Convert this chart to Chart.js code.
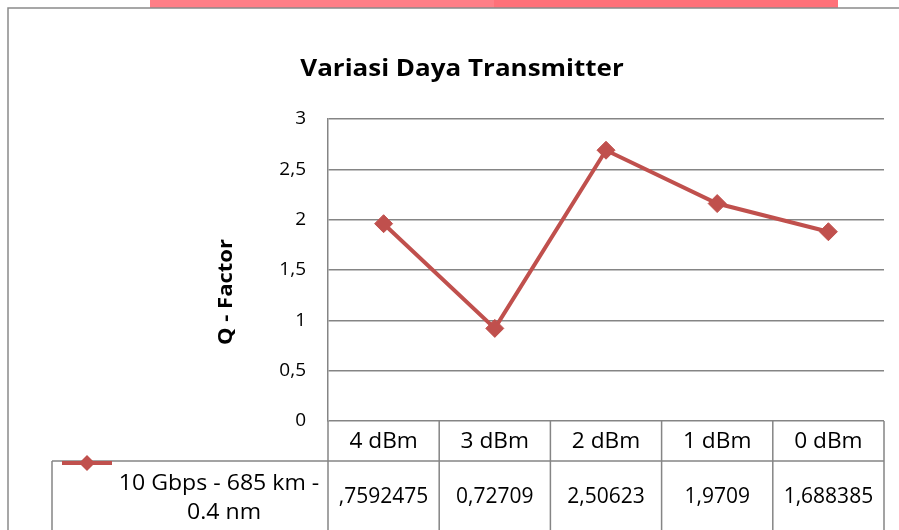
<!DOCTYPE html>
<html>
<head>
<meta charset="utf-8">
<script src="https://cdn.jsdelivr.net/npm/chart.js@4.4.0/dist/chart.umd.min.js"></script>
<style>
  html, body { margin: 0; padding: 0; background: #fff; }
  #wrap { width: 899px; height: 530px; position: relative; }
</style>
</head>
<body>
<div id="wrap"><canvas id="qChart" width="899" height="530"></canvas></div>
<script>
// data
const categories = ["4 dBm", "3 dBm", "2 dBm", "1 dBm", "0 dBm"];
const qFactor = [1.96, 0.92, 2.69, 2.16, 1.88];
const tableValues = [",7592475", "0,72709", "2,50623", "1,9709", "1,688385"];
const yTickLabels = ["0", "0,5", "1", "1,5", "2", "2,5", "3"];
const seriesName = ["10 Gbps - 685 km -", "0.4 nm"];

const red = "#C0504D";
const gridGrey = "#858585";
const fontFam = "'Open Sans', 'Liberation Sans', sans-serif";

// text stretched sideways so it covers the same width as the original
function wideText(ctx, text, x, y, stretch) {
  ctx.save();
  ctx.translate(x, y);
  ctx.scale(stretch, 1);
  ctx.fillText(text, 0, 0);
  ctx.restore();
}

// draws the outer frame, title, y title and the data table under the plot
const tablePlugin = {
  id: "dataTable",
  afterDraw(chart) {
    const ctx = chart.ctx;
    const area = chart.chartArea;
    const n = categories.length;
    const step = (area.right - area.left) / n;
    const rowTop = area.bottom;
    const row2 = rowTop + 40;
    const bottom = chart.height;

    ctx.save();

    // pink strip at top
    ctx.fillStyle = "#FF7F87";
    ctx.fillRect(150, 0, 344, 8);
    ctx.fillStyle = "#FF7179";
    ctx.fillRect(494, 0, 344, 8);

    // outer frame
    ctx.strokeStyle = "#8a8a8a";
    ctx.lineWidth = 1.5;
    ctx.beginPath();
    ctx.moveTo(8, bottom);
    ctx.lineTo(8, 8);
    ctx.lineTo(chart.width, 8);
    ctx.stroke();

    // chart title
    ctx.fillStyle = "#000";
    ctx.font = "bold 23px " + fontFam;
    ctx.textAlign = "center";
    ctx.textBaseline = "middle";
    wideText(ctx, "Variasi Daya Transmitter", 462, 69, 1.13);

    // y axis title
    ctx.save();
    ctx.translate(226, 292);
    ctx.rotate(-Math.PI / 2);
    ctx.font = "bold 20px " + fontFam;
    wideText(ctx, "Q - Factor", 0, 0, 1.1);
    ctx.restore();

    // table lines
    ctx.strokeStyle = gridGrey;
    ctx.lineWidth = 1.5;
    ctx.beginPath();
    ctx.moveTo(52, row2);
    ctx.lineTo(area.right, row2);
    ctx.moveTo(52, row2);
    ctx.lineTo(52, bottom);
    for (let i = 0; i <= n; i++) {
      const x = area.left + step * i;
      ctx.moveTo(x, rowTop);
      ctx.lineTo(x, bottom);
    }
    ctx.stroke();

    // header + values
    ctx.font = "21px " + fontFam;
    ctx.fillStyle = "#000";
    for (let i = 0; i < n; i++) {
      const cx = chart.scales.x.getPixelForValue(i);
      wideText(ctx, categories[i], cx, rowTop + 21, 1.08);
      ctx.save();
      ctx.beginPath();
      ctx.rect(area.left + step * i + 1, row2, step - 2, bottom - row2);
      ctx.clip();
      wideText(ctx, tableValues[i], cx, row2 + 36, 1.0);
      ctx.restore();
    }

    // legend key
    ctx.strokeStyle = red;
    ctx.lineWidth = 4;
    ctx.beginPath();
    ctx.moveTo(62, row2 + 2);
    ctx.lineTo(112, row2 + 2);
    ctx.stroke();
    ctx.fillStyle = red;
    ctx.beginPath();
    ctx.moveTo(87, row2 + 2 - 8);
    ctx.lineTo(95, row2 + 2);
    ctx.lineTo(87, row2 + 2 + 8);
    ctx.lineTo(79, row2 + 2);
    ctx.closePath();
    ctx.fill();

    ctx.fillStyle = "#000";
    wideText(ctx, seriesName[0], 219, row2 + 23, 1.1);
    wideText(ctx, seriesName[1], 224, row2 + 52, 1.1);

    ctx.restore();
  }
};

const ctx = document.getElementById("qChart").getContext("2d");

new Chart(ctx, {
  type: "line",
  data: {
    labels: categories,
    datasets: [
      {
        label: seriesName.join(" "),
        data: qFactor,
        borderColor: red,
        backgroundColor: red,
        borderWidth: 4,
        tension: 0,
        pointStyle: "rectRot",
        pointRadius: 9,
        pointBorderWidth: 1,
        pointBackgroundColor: red,
        pointBorderColor: red,
        fill: false
      }
    ]
  },
  options: {
    responsive: false,
    animation: false,
    layout: {
      padding: { top: 119, bottom: 109, left: 200, right: 15 }
    },
    plugins: {
      legend: { display: false },
      title: { display: false },
      tooltip: { enabled: false }
    },
    scales: {
      x: {
        type: "category",
        offset: true,
        display: false
      },
      y: {
        min: 0,
        max: 3,
        afterFit(scale) {
          scale.width = 128;
        },
        border: { display: true, color: gridGrey, width: 1.5 },
        grid: {
          color: gridGrey,
          lineWidth: 1.5,
          drawTicks: false
        },
        ticks: {
          stepSize: 0.5,
          padding: 22,
          color: "#000",
          font: { family: fontFam, size: 19 },
          callback: (value, index) => yTickLabels[index]
        }
      }
    }
  },
  plugins: [tablePlugin]
});
</script>
</body>
</html>
